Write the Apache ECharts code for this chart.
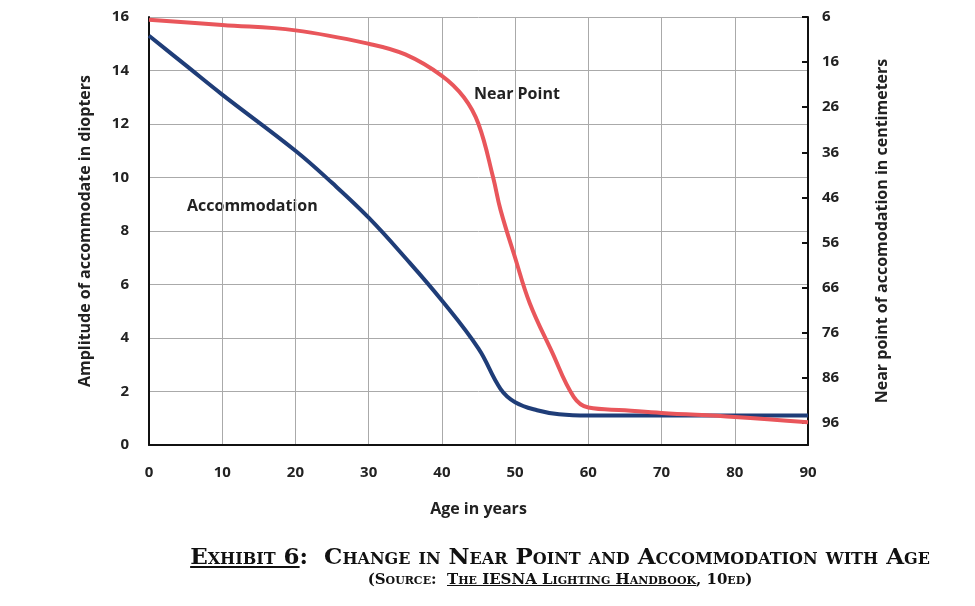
<!DOCTYPE html>
<html><head><meta charset="utf-8">
<script src="https://cdn.jsdelivr.net/npm/echarts@6/dist/echarts.min.js"></script>
<style>
body{margin:0;background:#fff}
#main{width:975px;height:606px}
.cap{position:absolute;left:140px;width:840px;text-align:center;font-family:"DejaVu Serif",serif;font-weight:bold;font-variant:small-caps;color:#111}
</style></head><body>
<div id="main"></div>
<div class="cap" style="top:542px;font-size:23px"><u>Exhibit 6</u>:&nbsp; Change in Near Point and Accommodation with Age</div>
<div class="cap" style="top:570px;font-size:15px">(Source:&nbsp; <u>The IESNA Lighting Handbook</u>, 10ed)</div>
<script>
// 数据
var ageTicks = [0,10,20,30,40,50,60,70,80,90];
var accomAge = [0,5,10,20,25,30,35,40,45,48,50,53,56,60,70,80,90];
var accomVal = [15.3,14.2,13.1,11.0,9.8,8.5,7.0,5.4,3.6,2.1,1.6,1.3,1.15,1.1,1.1,1.1,1.1];
var nearAge = [0,10,20,30,35,40,43,45,47,48,50,52,55,58,60,65,70,80,90];
var nearVal = [15.9,15.7,15.5,15.0,14.6,13.8,13.0,12.0,10.0,8.8,7.0,5.3,3.5,1.8,1.4,1.3,1.2,1.05,0.85];

function pairs(xs, ys){ var r=[]; for(var i=0;i<xs.length;i++) r.push([xs[i],ys[i]]); return r; }

var lab = {color:'#222',fontWeight:'bold',fontSize:15,fontFamily:'Open Sans'};
var nm = {color:'#222',fontWeight:'bold',fontSize:16,fontFamily:'Open Sans'};
var myChart = echarts.init(document.getElementById('main'));
var option = {
  animation:false,
  grid:{left:149,right:167,top:17,bottom:161},
  xAxis:{type:'value',min:0,max:90,interval:10,
    name:'Age in years',nameLocation:'middle',nameGap:56,nameTextStyle:nm,
    axisLine:{lineStyle:{color:'#111',width:2}},axisTick:{show:false},
    axisLabel:Object.assign({margin:20},lab),
    splitLine:{lineStyle:{color:'#aaa',width:1}}},
  yAxis:[
    {type:'value',min:0,max:16,interval:2,
     name:'Amplitude of accommodate in diopters',nameLocation:'middle',nameGap:56,nameTextStyle:nm,
     axisLine:{show:true,lineStyle:{color:'#111',width:2}},axisTick:{show:false},
     axisLabel:Object.assign({margin:20},lab),
     splitLine:{lineStyle:{color:'#aaa',width:1}}},
    {type:'value',min:6,max:100.9,interval:10,inverse:true,position:'right',
     name:'Near point of accomodation in centimeters',nameLocation:'middle',nameGap:66,nameRotate:90,nameTextStyle:nm,
     axisLine:{show:true,lineStyle:{color:'#111',width:2}},
     axisTick:{show:true,inside:true,length:6,lineStyle:{color:'#111',width:2}},
     axisLabel:Object.assign({margin:14,showMaxLabel:false},lab),
     splitLine:{show:false}}
  ],
  series:[
    {name:'Accommodation',type:'line',smooth:0.4,symbol:'none',data:pairs(accomAge,accomVal),
     lineStyle:{color:'#1f3d78',width:4}},
    {name:'Near Point',type:'line',smooth:0.4,symbol:'none',data:pairs(nearAge,nearVal),
     lineStyle:{color:'#e9565b',width:4}}
  ],
  graphic:[
    {type:'text',left:474,top:86,style:{text:'Near Point',fill:'#222',font:'bold 16px "Open Sans"'}},
    {type:'text',left:187,top:198,style:{text:'Accommodation',fill:'#222',font:'bold 16px "Open Sans"'}}
  ]
};
myChart.setOption(option);
</script>
</body></html>
